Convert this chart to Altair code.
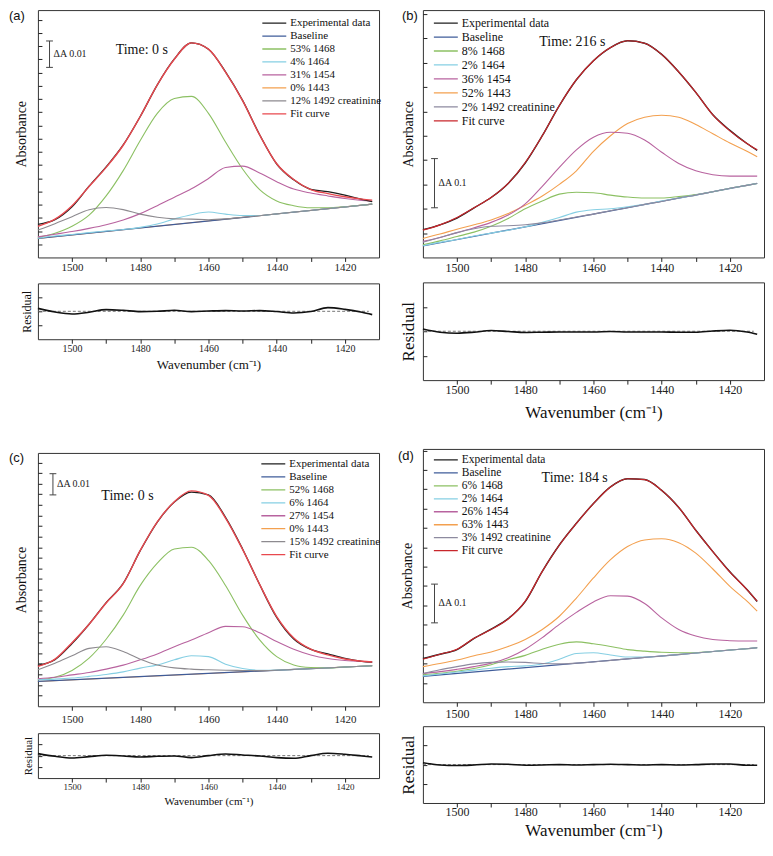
import altair as alt
import pandas as pd

SERIF = "Liberation Serif"
SANS = "Liberation Sans"

# ---------------- data ----------------
WN = [1510, 1505, 1500, 1495, 1490, 1485, 1480, 1475, 1470, 1465, 1460,
      1455, 1450, 1445, 1440, 1435, 1430, 1425, 1420, 1415, 1412]
BASE_WN = [1510, 1412]
ZERO_WN = [1510, 1413]

KEYS = ["exp", "base", "p1468", "p1464", "p1454", "p1443", "p1492", "fit"]
DRAW_ORDER = ["p1443", "base", "p1468", "p1464", "p1454", "p1492", "exp", "fit"]

# panel (a): values in 1e-3 absorbance
A_LABELS = ["Experimental data", "Baseline", "53% 1468", "4% 1464", "31% 1454",
            "0% 1443", "12% 1492 creatinine", "Fit curve"]
A_EXP = [12.5, 14.3, 19.2, 27.0, 34.3, 42.6, 53.4, 65.4, 75.2, 81.3, 78.9,
         70.3, 59.5, 46.5, 35.4, 29.4, 25.8, 24.9, 23.6, 22.0, 21.1]
A_FIT = [11.8, 14.5, 19.6, 26.9, 34.1, 42.5, 53.4, 65.4, 75.1, 81.3, 78.9,
         70.2, 59.4, 46.4, 35.5, 29.5, 25.7, 24.2, 23.0, 22.1, 21.7]
A_1468 = [7.6, 9.2, 11.8, 16.0, 23.3, 32.9, 44.3, 54.6, 60.2, 61.0, 54.6,
          43.7, 33.5, 25.7, 21.4, 19.6, 18.8, 18.8, 19.2, 19.8, 20.2]
A_1464 = [7.3, 8.1, 8.7, 9.4, 10.0, 10.6, 11.4, 12.7, 14.6, 16.2, 17.2,
          16.4, 15.9, 15.9, 16.5, 17.2, 17.8, 18.5, 19.1, 19.8, 20.2]
A_1454 = [7.8, 8.8, 9.8, 11.0, 12.4, 14.2, 16.6, 19.6, 22.8, 26.0, 29.9,
          34.1, 34.6, 32.0, 28.7, 25.9, 24.4, 23.3, 22.3, 21.6, 21.3]
A_1443 = [7.2, 20.2]
A_1492 = [10.4, 12.8, 15.4, 18.1, 18.9, 18.1, 16.4, 15.2, 14.6, 14.5, 14.3,
          14.6, 15.2, 15.8, 16.5, 17.2, 17.8, 18.5, 19.1, 19.8, 20.2]
A_BASE = [7.2, 20.2]
A_RES = [0.21, -0.05, -0.19, -0.07, 0.12, 0.07, -0.02, 0.0, 0.07, -0.02, 0.02,
         0.05, 0.02, 0.05, -0.02, -0.12, -0.02, 0.26, 0.14, -0.07, -0.24]

# panel (b): values in 1e-2 absorbance
B_LABELS = ["Experimental data", "Baseline", "8% 1468", "2% 1464", "36% 1454",
            "52% 1443", "2% 1492 creatinine", "Fit curve"]
B_EXP = [5.7, 6.7, 8.1, 10.2, 12.3, 15.2, 19.4, 25.0, 31.2, 36.5, 40.4,
         43.1, 44.5, 44.0, 41.7, 38.1, 33.9, 29.3, 26.1, 23.4, 22.0]
B_FIT = [5.6, 6.7, 8.2, 10.2, 12.3, 15.2, 19.5, 25.0, 31.2, 36.5, 40.4,
         43.1, 44.5, 44.0, 41.7, 38.1, 33.9, 29.3, 26.0, 23.4, 22.1]
B_1468 = [2.6, 3.4, 4.3, 5.2, 6.4, 8.0, 10.0, 11.6, 13.0, 13.4, 13.3,
          12.8, 12.4, 12.2, 12.2, 12.5, 12.9, 13.5, 14.2, 14.8, 15.2]
B_1464 = [2.4, 3.1, 3.7, 4.4, 5.0, 5.6, 6.3, 7.2, 8.2, 9.3, 9.8,
          10.0, 10.4, 10.9, 11.6, 12.2, 12.8, 13.5, 14.2, 14.8, 15.2]
B_1454 = [3.3, 4.1, 5.1, 6.1, 7.2, 8.7, 11.0, 14.6, 18.5, 22.1, 24.7,
          25.7, 25.5, 24.1, 21.6, 19.3, 17.8, 17.0, 16.7, 16.7, 16.7]
B_1443 = [3.9, 4.8, 5.8, 6.7, 7.7, 9.0, 10.7, 12.6, 15.0, 17.8, 21.8,
          25.0, 27.5, 28.8, 29.2, 28.8, 27.3, 25.4, 23.5, 21.8, 20.7]
B_1492 = [3.1, 4.1, 5.1, 5.9, 6.4, 6.5, 6.7, 7.1, 7.7, 8.3, 8.9,
          9.6, 10.2, 10.9, 11.5, 12.2, 12.8, 13.5, 14.2, 14.8, 15.2]
B_BASE = [2.35, 15.2]
B_RES = [0.09, -0.04, -0.08, -0.04, 0.03, -0.01, -0.05, -0.04, -0.03, -0.03, -0.03,
         -0.01, -0.03, -0.03, -0.03, -0.04, -0.04, 0.01, 0.04, -0.03, -0.12]

# panel (c): values in 1e-3 absorbance
C_LABELS = ["Experimental data", "Baseline", "52% 1468", "6% 1464", "27% 1454",
            "0% 1443", "15% 1492 creatinine", "Fit curve"]
C_EXP = [19.3, 22.0, 29.6, 38.7, 48.9, 58.0, 73.4, 86.9, 96.3, 101.0, 99.7,
         89.1, 74.2, 57.4, 41.9, 31.7, 26.8, 24.7, 22.6, 21.2, 20.8]
C_FIT = [18.8, 22.2, 30.0, 38.7, 48.7, 57.8, 73.5, 87.0, 96.5, 101.6, 99.5,
         88.8, 74.0, 57.5, 42.3, 32.2, 26.9, 24.2, 22.3, 21.2, 20.9]
C_1468 = [12.5, 13.7, 16.9, 22.7, 31.6, 43.0, 57.0, 67.5, 74.2, 75.0, 68.8,
          57.0, 43.0, 31.3, 23.4, 19.5, 18.3, 18.1, 18.5, 18.9, 19.1]
C_1464 = [12.5, 12.8, 13.3, 14.1, 15.0, 16.2, 18.0, 19.5, 21.9, 23.8, 23.4,
          19.8, 17.8, 17.0, 17.1, 17.4, 17.7, 18.1, 18.5, 18.9, 19.1]
C_1454 = [13.0, 13.7, 14.8, 15.9, 17.5, 19.4, 21.9, 24.7, 28.1, 31.3, 34.7,
          37.7, 37.5, 34.7, 30.5, 26.9, 24.2, 22.5, 21.6, 21.1, 20.9]
C_1443 = [11.7, 19.1]
C_1492 = [17.2, 20.3, 23.8, 27.3, 28.1, 25.8, 22.2, 19.5, 18.1, 17.5, 17.2,
          17.0, 16.9, 16.8, 17.0, 17.4, 17.7, 18.1, 18.5, 18.9, 19.1]
C_BASE = [11.7, 19.1]
C_RES = [0.18, -0.06, -0.21, -0.09, 0.03, -0.03, -0.12, -0.06, -0.03, -0.18, 0.0,
         0.15, 0.06, -0.03, -0.18, -0.24, 0.0, 0.21, 0.12, -0.03, -0.12]

# panel (d): values in 1e-2 absorbance
D_LABELS = ["Experimental data", "Baseline", "6% 1468", "2% 1464", "26% 1454",
            "63% 1443", "3% 1492 creatinine", "Fit curve"]
D_EXP = [11.3, 12.4, 13.6, 16.5, 18.9, 21.6, 26.0, 33.8, 40.6, 46.2, 51.3,
         55.6, 57.7, 57.5, 54.7, 50.3, 44.4, 38.9, 33.7, 29.1, 26.0]
D_FIT = [11.1, 12.4, 13.7, 16.5, 18.8, 21.5, 26.1, 33.8, 40.6, 46.2, 51.3,
         55.6, 57.7, 57.5, 54.7, 50.3, 44.4, 38.9, 33.6, 29.1, 26.1]
D_1468 = [7.1, 7.5, 8.0, 8.7, 9.7, 11.0, 12.1, 13.7, 15.0, 15.6, 15.1,
          14.4, 13.6, 13.2, 12.9, 12.8, 12.8, 13.1, 13.5, 13.8, 14.1]
D_1464 = [6.8, 7.3, 7.8, 8.3, 8.8, 9.2, 9.4, 9.9, 11.1, 12.6, 12.8,
          12.2, 11.7, 11.7, 11.9, 12.3, 12.7, 13.1, 13.5, 13.8, 14.1]
D_1454 = [7.4, 7.9, 8.5, 9.2, 10.1, 11.5, 13.7, 16.7, 20.1, 23.2, 25.9,
          27.5, 27.4, 25.5, 21.8, 18.8, 17.1, 16.2, 15.9, 15.8, 15.8]
D_1443 = [9.2, 10.0, 10.9, 12.0, 13.0, 14.4, 16.2, 18.8, 22.2, 26.9, 32.1,
          36.8, 40.2, 41.9, 42.2, 41.2, 38.5, 34.4, 29.9, 26.1, 23.5]
D_1492 = [7.4, 8.4, 9.2, 9.9, 10.3, 10.4, 10.3, 10.0, 9.9, 10.1, 10.4,
          10.8, 11.2, 11.6, 11.9, 12.3, 12.7, 13.1, 13.5, 13.8, 14.1]
D_BASE = [6.67, 14.07]
D_RES = [0.10, -0.02, -0.05, -0.02, 0.03, 0.02, -0.03, -0.02, 0.0, -0.02, 0.0,
         0.02, 0.0, -0.02, 0.0, -0.02, 0.0, 0.03, 0.03, -0.03, -0.03]

COLORS_AC = ["#1e1e1e", "#3f5c9a", "#8cc063", "#86cfe3", "#b8639f",
             "#f3a04f", "#8d8a8f", "#e8484e"]
COLORS_BD = ["#1e1e1e", "#3f5c9a", "#8cc063", "#86cfe3", "#b8639f",
             "#f3a04f", "#8d8a9f", "#c8262b"]

X_DOMAIN = [1510, 1410]
X_TICKS = list(range(1420, 1510, 10))
WN_TITLE = "Wavenumber (cm\u207b\u00b9)"


def x_axis(label_fs, label_pad, title=None, title_fs=12, title_pad=4):
    kw = dict(values=X_TICKS, format="d",
              labelExpr="datum.value % 20 == 0 ? datum.label : ''",
              tickSize=4, tickColor="#222", labelColor="#222", domain=False,
              grid=False, labelFont=SERIF, labelFontSize=label_fs,
              labelPadding=label_pad, labelFlush=False, labelOverlap=False)
    if title is None:
        kw["title"] = None
    else:
        kw.update(title=title, titleFont=SERIF, titleFontSize=title_fs,
                  titleFontWeight="normal", titlePadding=title_pad,
                  titleColor="#111")
    return alt.Axis(**kw)


def main_panel(labels, colors, series, unit, ymax, ystep, width, height,
               bar, time_label, letter, legend_cfg, xlab_fs, xlab_pad, ytitle_pad,
               widths):
    rows = []
    for key, label in zip(KEYS, labels):
        xs, ys = series[key]
        for xv, yv in zip(xs, ys):
            rows.append({"series": label, "wn": xv, "A": yv * unit})
    df = pd.DataFrame(rows)

    nt = int(ymax / ystep)
    yticks = [round(ystep * unit * k, 6) for k in range(1, nt + 1)]

    X = alt.X("wn:Q", scale=alt.Scale(domain=X_DOMAIN, nice=False, zero=False),
              axis=x_axis(xlab_fs, xlab_pad))
    Y = alt.Y("A:Q", scale=alt.Scale(domain=[0, ymax * unit], nice=False, zero=False),
              axis=alt.Axis(values=yticks, labels=False, domain=False, tickSize=4,
                            offset=-4, tickColor="#222", grid=False,
                            title="Absorbance", titleFont=SERIF, titleFontSize=14,
                            titleFontWeight="normal", titlePadding=ytitle_pad,
                            titleColor="#111"))
    lx, ly, lfs, lrow = legend_cfg
    C = alt.Color("series:N", scale=alt.Scale(domain=labels, range=colors),
                  legend=alt.Legend(orient="none", legendX=lx, legendY=ly, title=None,
                                    symbolType="stroke", symbolSize=576,
                                    symbolStrokeWidth=1.3, labelFont=SERIF,
                                    labelFontSize=lfs, labelColor="#111",
                                    clipHeight=lrow, rowPadding=0, labelOffset=3,
                                    padding=0, labelLimit=300))
    layers = []
    for key in DRAW_ORDER:
        label = labels[KEYS.index(key)]
        layers.append(
            alt.Chart(df).transform_filter(alt.datum.series == label)
            .mark_line(strokeWidth=widths.get(key, 1.1), interpolate="monotone")
            .encode(x=X, y=Y, color=C)
        )

    bx, by1, by2, btxt = bar
    bar_df = pd.DataFrame({"wn": [bx], "A": [by1 * unit], "A2": [by2 * unit]})
    layers.append(alt.Chart(bar_df).mark_rule(color="#444", strokeWidth=1)
                  .encode(x=X, y=Y, y2="A2:Q"))
    cap_df = pd.DataFrame({"wn": [bx - 1, bx - 1], "wn2": [bx + 1, bx + 1],
                           "A": [by1 * unit, by2 * unit]})
    layers.append(alt.Chart(cap_df).mark_rule(color="#444", strokeWidth=1)
                  .encode(x=X, x2="wn2:Q", y=Y))
    btxt_df = pd.DataFrame({"wn": [bx - 1.2], "A": [(by1 + by2) / 2 * unit], "t": [btxt]})
    layers.append(alt.Chart(btxt_df).mark_text(align="left", baseline="middle",
                                               font=SERIF, fontSize=10, color="#222")
                  .encode(x=X, y=Y, text="t:N"))

    tx, ty, tt = time_label
    t_df = pd.DataFrame({"wn": [tx], "A": [ty * unit], "t": [tt]})
    layers.append(alt.Chart(t_df).mark_text(align="left", baseline="middle",
                                            font=SERIF, fontSize=14, color="#111")
                  .encode(x=X, y=Y, text="t:N"))

    let_txt, let_x, let_y = letter
    let_df = pd.DataFrame({"t": [let_txt]})
    layers.append(alt.Chart(let_df).mark_text(align="left", baseline="middle",
                                              font=SANS, fontSize=13, color="#111")
                  .encode(x=alt.value(let_x), y=alt.value(let_y), text="t:N"))

    return alt.layer(*layers).properties(width=width, height=height)


def res_panel(res, width, height, xlab_fs, xlab_pad, title_fs, title_pad,
              ytitle_fs, ytitle_pad):
    X = alt.X("wn:Q", scale=alt.Scale(domain=X_DOMAIN, nice=False, zero=False),
              axis=x_axis(xlab_fs, xlab_pad, WN_TITLE, title_fs, title_pad))
    Y = alt.Y("r:Q", scale=alt.Scale(domain=[-2, 2], nice=False, zero=False),
              axis=alt.Axis(values=[-1, 0, 1], labels=False, domain=False, tickSize=4,
                            offset=-4, tickColor="#222", grid=False,
                            title="Residual", titleFont=SERIF, titleFontSize=ytitle_fs,
                            titleFontWeight="normal", titlePadding=ytitle_pad,
                            titleColor="#111"))
    zero = alt.Chart(pd.DataFrame({"wn": ZERO_WN, "r": [0, 0]})).mark_line(
        strokeDash=[3, 2], color="#666", strokeWidth=0.9).encode(x=X, y=Y)
    line = alt.Chart(pd.DataFrame({"wn": WN, "r": res})).mark_line(
        color="#111", strokeWidth=1.6, interpolate="monotone").encode(x=X, y=Y)
    return alt.layer(zero, line).properties(width=width, height=height)


def series_dict(exp, base, p1468, p1464, p1454, p1443, p1492, fit):
    return {
        "exp": (WN, exp), "base": (BASE_WN, base), "p1468": (WN, p1468),
        "p1464": (WN, p1464), "p1454": (WN, p1454),
        "p1443": (BASE_WN if len(p1443) == 2 else WN, p1443),
        "p1492": (WN, p1492), "fit": (WN, fit),
    }


PW = 342
W_AC = {"exp": 1.3, "fit": 1.4, "base": 1.2}
W_BD = {"exp": 1.4, "fit": 1.2, "base": 1.2}

a_main = main_panel(A_LABELS, COLORS_AC,
                    series_dict(A_EXP, A_BASE, A_1468, A_1464, A_1454, A_1443, A_1492, A_FIT),
                    0.001, 93.7, 5, PW, 248,
                    (1506.6, 72, 82, "\u0394A 0.01"), (1487.2, 78.4, "Time: 0 s"),
                    ("(a)", -29, 6), (224, 6.5, 11, 13), 11, 0, 9, W_AC)
a_res = res_panel(A_RES, PW, 56, 10, 0, 13, 5, 12, 4)

b_main = main_panel(B_LABELS, COLORS_BD,
                    series_dict(B_EXP, B_BASE, B_1468, B_1464, B_1454, B_1443, B_1492, B_FIT),
                    0.01, 50.8, 5, PW, 248,
                    (1506.6, 10.2, 20.3, "\u0394A 0.1"), (1475.9, 44.3, "Time: 216 s"),
                    ("(b)", -21, 6), (10, 6, 12, 14), 12, 1, 7, W_BD)
b_res = res_panel(B_RES, PW, 98, 12, 0, 17, 9, 17, 5)

c_main = main_panel(C_LABELS, COLORS_AC,
                    series_dict(C_EXP, C_BASE, C_1468, C_1464, C_1454, C_1443, C_1492, C_FIT),
                    0.001, 119.5, 5, PW, 254,
                    (1505.6, 99.7, 109.7, "\u0394A 0.01"), (1491.4, 99.2, "Time: 0 s"),
                    ("(c)", -29, 5), (223, 4.5, 11, 13), 11, 3, 9, W_AC)
c_res = res_panel(C_RES, PW, 45, 9, 0, 11, 5, 11, 4)

d_main = main_panel(D_LABELS, COLORS_BD,
                    series_dict(D_EXP, D_BASE, D_1468, D_1464, D_1454, D_1443, D_1492, D_FIT),
                    0.01, 65.4, 5, PW, 254,
                    (1506.6, 20.5, 30.5, "\u0394A 0.1"), (1475.2, 57.9, "Time: 184 s"),
                    ("(d)", -25, 7), (10, 4.5, 11.5, 13), 12, 2, 8, W_BD)
d_res = res_panel(D_RES, PW, 77, 12, 0, 17, 5, 17, 5)

a_grp = alt.vconcat(a_main, a_res, spacing=26, bounds="flush").resolve_scale(color="independent")
c_grp = alt.vconcat(c_main, c_res, spacing=27, bounds="flush").resolve_scale(color="independent")
b_grp = alt.vconcat(b_main, b_res, spacing=25, bounds="flush").resolve_scale(color="independent")
d_grp = alt.vconcat(d_main, d_res, spacing=24, bounds="flush").resolve_scale(color="independent")

left = alt.vconcat(a_grp, c_grp, spacing=79).resolve_scale(color="independent")
right = alt.vconcat(b_grp, d_grp, spacing=27).resolve_scale(color="independent")

chart = (
    alt.hconcat(left, right, spacing=14)
    .resolve_scale(color="independent")
    .properties(padding=0)
    .configure(background="white", padding=0)
    .configure_view(stroke="#333", strokeWidth=1)
)

chart.save("out.html", embed_options={"renderer": "svg", "actions": False})
